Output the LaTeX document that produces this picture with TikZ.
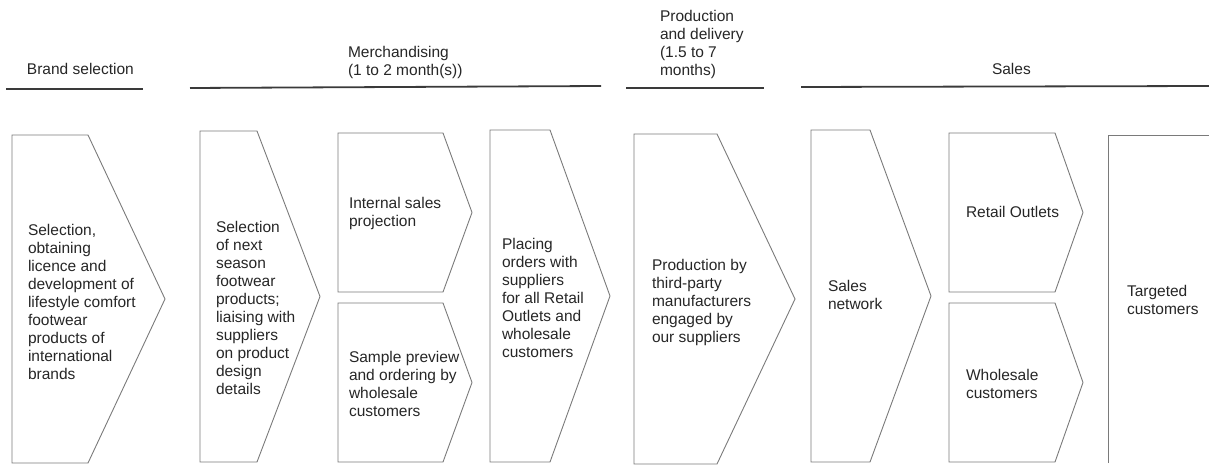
\documentclass[tikz,border=0pt]{standalone}
\usepackage{fontspec}
\setmainfont{Liberation Sans}
\definecolor{ink}{HTML}{262626}
\definecolor{edge}{HTML}{7A7A7A}
\definecolor{rule}{HTML}{3A3A3A}
\begin{document}
\begin{tikzpicture}[x=1pt,y=-1pt,
  every node/.style={inner sep=0pt, outer sep=0pt, text=ink,
    font=\fontsize{15.5}{18}\selectfont},
  label/.style={anchor=west, align=left},
  headrule/.style={draw=rule, line width=1.8pt},
  chevron/.style={draw=edge, line width=0.9pt, line join=miter}]
\useasboundingbox (0,0) rectangle (1209,465);

% stage headings and their rules
\node[label] (h1) at (27,69) {Brand selection};
\node[label] (h2) at (348,62) {Merchandising\\(1 to 2 month(s))};
\node[label] (h3) at (660,44) {Production\\and delivery\\(1.5 to 7\\months)};
\node[label] (h4) at (992,69) {Sales};
\coordinate (r1a) at (6,89);    \coordinate (r1b) at (143,89);
\coordinate (r2a) at (190,88);  \coordinate (r2b) at (601,86);
\coordinate (r3a) at (626,88);  \coordinate (r3b) at (764,88);
\coordinate (r4a) at (801,87);  \coordinate (r4b) at (1209,86);
\draw[headrule] (r1a) -- (r1b);
\draw[headrule] (r2a) -- (r2b);
\draw[headrule] (r3a) -- (r3b);
\draw[headrule] (r4a) -- (r4b);

% chevron outlines: left, top, shoulder, tip, bottom
\newcommand\chev[5]{%
  \draw[chevron] (#1,#2) -- (#3,#2) -- (#4,{(#2+#5)/2}) -- (#3,#5) -- (#1,#5) -- cycle;}
\chev{12}{135}{88}{165}{463}
\chev{200}{131}{257}{320}{462}
\chev{338}{133}{443}{472}{292}
\chev{338}{303}{443}{472}{462}
\chev{490}{130}{550}{610}{462}
\chev{634}{134}{717}{795}{464}
\chev{811}{130}{870}{931}{462}
\chev{949}{133}{1055}{1083}{292}
\chev{949}{303}{1055}{1083}{462}
\draw[chevron] (1108,463) -- (1108,135) -- (1215,135);

% box texts
\node[label] (t1) at (28,302) {Selection,\\obtaining\\licence and\\development of\\lifestyle comfort\\footwear\\products of\\international\\brands};
\node[label] (t2) at (216,308) {Selection\\of next\\season\\footwear\\products;\\liaising with\\suppliers\\on product\\design\\details};
\node[label] (t3) at (349,213) {Internal sales\\projection};
\node[label] (t4) at (349,384) {Sample preview\\and ordering by\\wholesale\\customers};
\node[label] (t5) at (502,298) {Placing\\orders with\\suppliers\\for all Retail\\Outlets and\\wholesale\\customers};
\node[label] (t6) at (652,302) {Production by\\third-party\\manufacturers\\engaged by\\our suppliers};
\node[label] (t7) at (828,295) {Sales\\network};
\node[label] (t8) at (966,212) {Retail Outlets};
\node[label] (t9) at (966,384) {Wholesale\\customers};
\node[label] (t10) at (1127,300) {Targeted\\customers};
\end{tikzpicture}
\end{document}
